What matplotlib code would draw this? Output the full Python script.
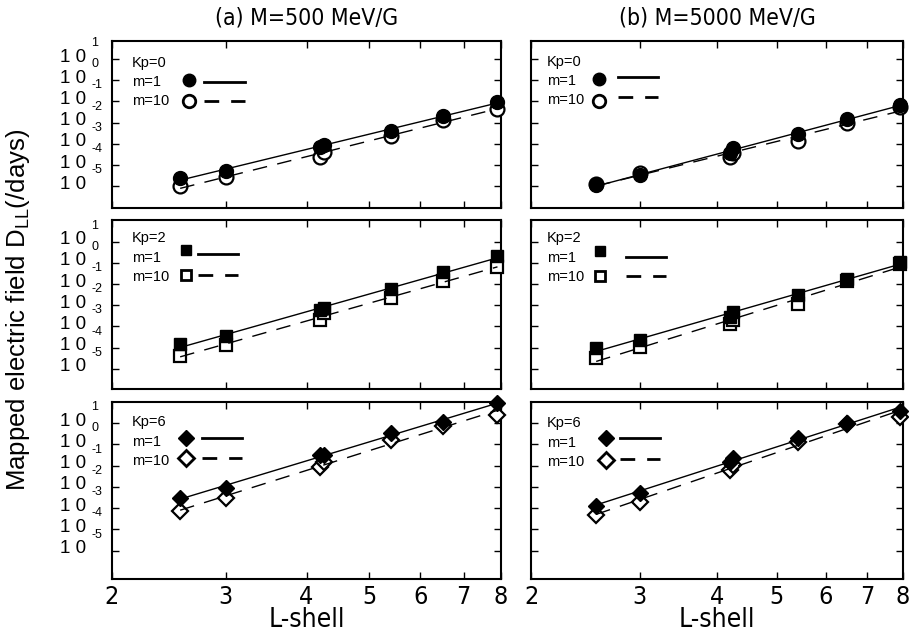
import numpy as np
import matplotlib
matplotlib.use('Agg')
import matplotlib.pyplot as plt
import matplotlib.transforms as mtransforms
from matplotlib.ticker import NullLocator

plt.rcParams['font.family'] = ['Liberation Sans', 'DejaVu Sans']
plt.rcParams['mathtext.fontset'] = 'custom'
plt.rcParams['mathtext.rm'] = 'Liberation Sans'
NARROW = dict(family='DejaVu Sans', stretch='condensed')

# L-shell positions of the points (same in every panel)
L_shell = [2.55, 3.0, 4.2, 4.25, 5.4, 6.5, 7.9]

# log10 of D_LL, (a) M=500 MeV/G
a_kp0_m1 = [-4.61, -4.26, -3.15, -3.04, -2.37, -1.67, -1.02]
a_kp0_m10 = [-5.00, -4.58, -3.62, -3.36, -2.65, -1.86, -1.35]
a_kp2_m1 = [-3.84, -3.45, -2.22, -2.14, -1.23, -0.45, 0.31]
a_kp2_m10 = [-4.39, -3.87, -2.69, -2.38, -1.67, -0.85, -0.21]
a_kp6_m1 = [-2.53, -2.06, -0.49, -0.49, 0.53, 1.05, 1.94]
a_kp6_m10 = [-3.13, -2.53, -1.04, -0.84, 0.21, 0.89, 1.38]

# (b) M=5000 MeV/G
b_kp0_m1 = [-4.95, -4.45, -3.43, -3.20, -2.54, -1.82, -1.16]
b_kp0_m10 = [-4.87, -4.37, -3.62, -3.43, -2.88, -2.02, -1.25]
b_kp2_m1 = [-4.03, -3.64, -2.54, -2.30, -1.51, -0.76, 0.03]
b_kp2_m10 = [-4.50, -3.95, -2.90, -2.69, -1.95, -0.84, -0.05]
b_kp6_m1 = [-2.88, -2.30, -0.81, -0.62, 0.32, 1.00, 1.58]
b_kp6_m10 = [-3.32, -2.69, -1.20, -0.96, 0.13, 0.95, 1.31]

kp_labels = ['Kp=0', 'Kp=2', 'Kp=6']
panel_titles = ['(a) M=500 MeV/G', '(b) M=5000 MeV/G']
ytick_exps = [1, 0, -1, -2, -3, -4, -5]
xticks = [2, 3, 4, 5, 6, 7, 8]

data = [[(a_kp0_m1, a_kp0_m10), (b_kp0_m1, b_kp0_m10)],
        [(a_kp2_m1, a_kp2_m10), (b_kp2_m1, b_kp2_m10)],
        [(a_kp6_m1, a_kp6_m10), (b_kp6_m1, b_kp6_m10)]]

W, H = 909, 637
fig = plt.figure(figsize=(W / 100, H / 100), dpi=100)

cols = [(112, 501), (531, 903)]
# pixel top, bottom and log10 y-limits of each row
rows = [(41, 208, 1.85, -6.02), (220, 389, 2.02, -5.95), (402, 579, 2.0, -6.33)]
markers = ['o', 's', 'D']
msize = [10, 8.4, 8.5]
leg_msize = [9, 7, 8]
# legend layout (pixels from the top-left corner of each panel)
leg = [[(20, 21.7, 77, 39, 60, 92, 133, 40.7, 60), (15.7, 20.7, 68, 38, 60, 87, 127, 35.7, 55.7)],
       [(20, 18.3, 74, 30, 55, 86, 126, 34, 55), (15.7, 18.3, 69, 30.7, 56, 95, 135, 36.7, 56)],
       [(20, 20.3, 74, 36.3, 56.3, 90, 130, 36, 56), (15.7, 21.3, 75, 36.3, 58, 89, 129, 36.3, 57)]]

L = np.array(L_shell)
for r, (y0, y1, ytop, ybot) in enumerate(rows):
    for c, (x0, x1) in enumerate(cols):
        ax = fig.add_axes([x0 / W, 1 - y1 / H, (x1 - x0) / W, (y1 - y0) / H])
        ax.set_xscale('log')
        ax.set_yscale('log')
        m1, m10 = data[r][c]
        mk = markers[r]

        # open symbols first, filled on top, then the fitted lines
        ax.plot(L, 10.0 ** np.array(m10), mk, ms=msize[r], mfc='white', mec='black',
                mew=1.6, ls='none', clip_on=False, zorder=3)
        ax.plot(L, 10.0 ** np.array(m1), mk, ms=msize[r], mfc='black', mec='black',
                mew=1, ls='none', clip_on=False, zorder=4)
        xx = np.array([L.min(), L.max()])
        for vals, dash in [(m1, '-'), (m10, (0, (10.5, 7.5)))]:
            p = np.polyfit(np.log10(L), vals, 1)
            yy = 10.0 ** np.polyval(p, np.log10(xx))
            ax.plot(xx, yy, color='black', lw=1.0, linestyle=dash, zorder=5)

        ax.set_xlim(2, 8)
        ax.set_ylim(10.0 ** ybot, 10.0 ** ytop)
        ax.xaxis.set_minor_locator(NullLocator())
        ax.yaxis.set_minor_locator(NullLocator())
        ax.set_xticks(xticks)
        ax.set_yticks([10.0 ** e for e in ytick_exps])
        ax.tick_params(which='both', direction='in', top=True, right=True,
                       length=5, width=1)
        for sp in ax.spines.values():
            sp.set_linewidth(1.5)

        if r == 2:
            ax.set_xticklabels([str(v) for v in xticks], fontsize=18, **NARROW)
            ax.tick_params(axis='x', pad=4)
        else:
            ax.set_xticklabels([])

        if c == 0:
            ax.set_yticklabels(['1 0'] * len(ytick_exps), fontsize=13.5)
            ax.tick_params(axis='y', pad=18.5)
            for lbl in ax.get_yticklabels():
                lbl.set_transform(lbl.get_transform() +
                                  mtransforms.ScaledTranslation(0, 4 / 100, fig.dpi_scale_trans))
            for e in ytick_exps:
                tr = mtransforms.offset_copy(ax.get_yaxis_transform(), fig=fig,
                                             x=-21, y=16, units='dots')
                ax.text(0, 10.0 ** e, str(e), transform=tr, ha='left', va='center',
                        fontsize=9)
        else:
            ax.set_yticklabels([])

        # hand-made legend
        tx, ty, mx, my1, my2, lx0, lx1, ly1, ly2 = leg[r][c]
        axw = x1 - x0

        def at(dx, dy):
            return mtransforms.offset_copy(ax.transAxes, fig=fig, x=dx, y=-dy, units='dots')

        for k, txt in enumerate([kp_labels[r], 'm=1', 'm=10']):
            ax.text(0, 1, txt, transform=at(tx, ty + 19.3 * k), ha='left', va='center',
                    fontsize=10.5)
        ax.plot([0], [1], mk, ms=leg_msize[r], mfc='black', mec='black', mew=1,
                transform=at(mx, my1), clip_on=False)
        ax.plot([0], [1], mk, ms=leg_msize[r], mfc='white', mec='black', mew=2,
                transform=at(mx, my2), clip_on=False)
        ax.plot([0, (lx1 - lx0) / axw], [1, 1], color='black', lw=2,
                transform=at(lx0, ly1), clip_on=False)
        ax.plot([0, (lx1 - lx0) / axw], [1, 1], color='black', lw=2,
                linestyle=(0, (5.3, 4.3)), transform=at(lx0, ly2), clip_on=False)

        if r == 0:
            fig.text((x0 + x1) / 2 / W, 1 - 18 / H, panel_titles[c], ha='center',
                     va='center', fontsize=16.5, **NARROW)
        if r == 2:
            fig.text((x0 + x1) / 2 / W, 1 - 620 / H, 'L-shell', ha='center',
                     va='center', fontsize=19, **NARROW)

fig.text(18 / W, 1 - 310 / H, r'Mapped electric field D$_{\mathrm{LL}}$(/days)',
         rotation=90, ha='center', va='center', fontsize=18.5)

fig.savefig('out.png', dpi=100)
